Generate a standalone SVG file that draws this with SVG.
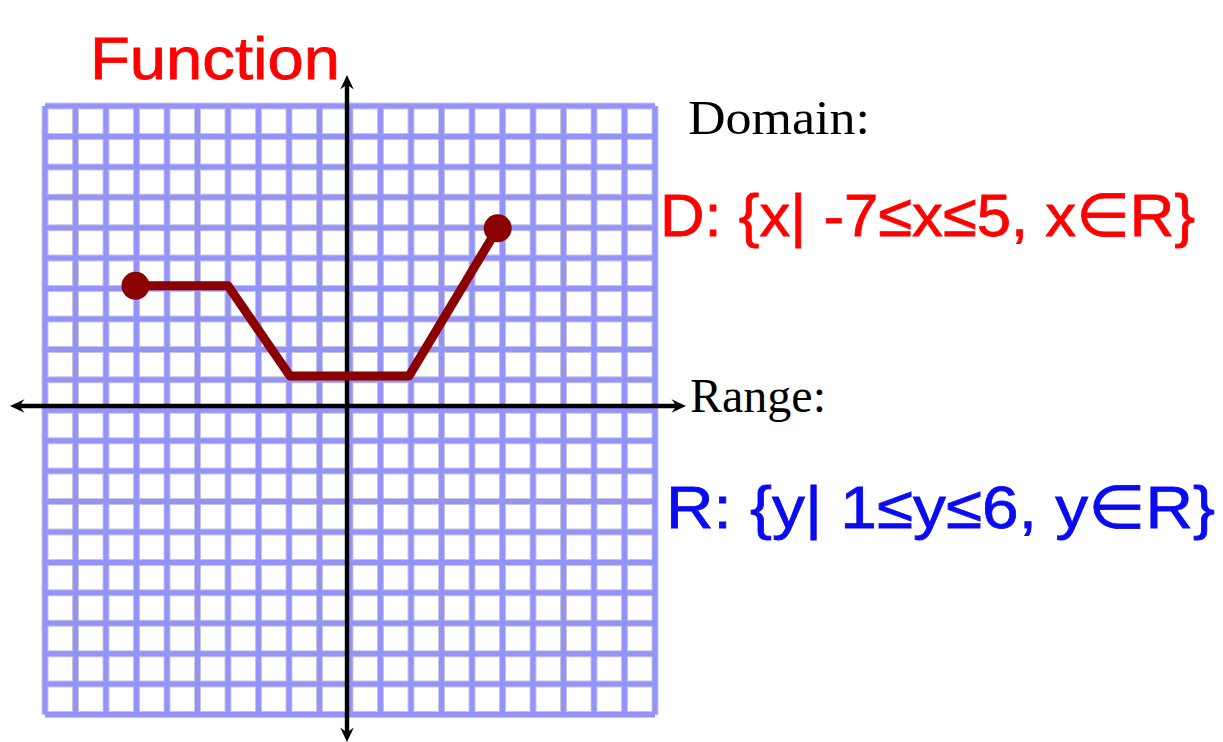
<svg xmlns="http://www.w3.org/2000/svg" width="1223" height="742" viewBox="0 0 1223 742">
<style>
.gshadow{fill:none;stroke:#c6c6d6;stroke-width:7}
.gline{fill:none;stroke:#9393fb;stroke-width:5}
.axis{fill:none;stroke:#000;stroke-width:4.4}
.serif{font-family:"Liberation Serif","Times New Roman",serif;font-size:48px;fill:#000}
.hand{font-family:"Liberation Sans","DejaVu Sans",Arial,sans-serif;font-size:60px;stroke-width:0.8}
.red{fill:#ff0000;stroke:#ff0000}
.blue{fill:#0b0bf2;stroke:#0b0bf2}
.curve{fill:none;stroke:#8b0000;stroke-width:9;stroke-linejoin:round;stroke-linecap:round}
.dot{fill:#8b0000}
</style>
<defs>
<marker id="arr" viewBox="-15 -7 15 14" refX="-9" refY="0" markerWidth="15" markerHeight="14" markerUnits="userSpaceOnUse" orient="auto-start-reverse">
<path d="M0,0 L-14.5,-6.8 L-9.5,0 L-14.5,6.8 Z" fill="#000"/>
</marker>
</defs>
<rect width="1223" height="742" fill="#fff"/>
<g id="grid">
<path class="gshadow" d="M45,106V714.5M75.5,106V714.5M106,106V714.5M136.5,106V714.5M167,106V714.5M197.5,106V714.5M228,106V714.5M258.5,106V714.5M289,106V714.5M319.5,106V714.5M350,106V714.5M380.5,106V714.5M411,106V714.5M441.5,106V714.5M472,106V714.5M502.5,106V714.5M533,106V714.5M563.5,106V714.5M594,106V714.5M624.5,106V714.5M655,106V714.5M45,106H655M45,136.4H655M45,166.9H655M45,197.3H655M45,227.7H655M45,258.1H655M45,288.6H655M45,319H655M45,349.4H655M45,379.8H655M45,410.3H655M45,440.7H655M45,471.1H655M45,501.5H655M45,532H655M45,562.4H655M45,592.8H655M45,623.2H655M45,653.7H655M45,684.1H655M45,714.5H655"/>
<path class="gline" d="M45,106V714.5M75.5,106V714.5M106,106V714.5M136.5,106V714.5M167,106V714.5M197.5,106V714.5M228,106V714.5M258.5,106V714.5M289,106V714.5M319.5,106V714.5M350,106V714.5M380.5,106V714.5M411,106V714.5M441.5,106V714.5M472,106V714.5M502.5,106V714.5M533,106V714.5M563.5,106V714.5M594,106V714.5M624.5,106V714.5M655,106V714.5M45,106H655M45,136.4H655M45,166.9H655M45,197.3H655M45,227.7H655M45,258.1H655M45,288.6H655M45,319H655M45,349.4H655M45,379.8H655M45,410.3H655M45,440.7H655M45,471.1H655M45,501.5H655M45,532H655M45,562.4H655M45,592.8H655M45,623.2H655M45,653.7H655M45,684.1H655M45,714.5H655"/>
</g>
<g id="connectors">
<line id="x-axis" class="axis" x1="19" y1="406" x2="677" y2="406" marker-start="url(#arr)" marker-end="url(#arr)"/>
<line id="y-axis" class="axis" x1="347" y1="84" x2="347" y2="733" marker-start="url(#arr)" marker-end="url(#arr)"/>
</g>
<g id="graph">
<polyline class="curve" points="135.5,285.8 228,285.8 290,376 409,376 497.7,228.3"/>
<circle class="dot" cx="135.5" cy="285.8" r="14"/>
<circle class="dot" cx="497.7" cy="228.3" r="14"/>
</g>
<g id="title">
<text class="hand red" x="90" y="79" font-size="60" textLength="250" lengthAdjust="spacingAndGlyphs">Function</text>
</g>
<g id="domain">
<text class="serif" x="688" y="134" textLength="182" lengthAdjust="spacingAndGlyphs">Domain:</text>
<text class="hand red" x="660" y="236" textLength="535" lengthAdjust="spacingAndGlyphs">D: {x| -7≤x≤5, x∈R}</text>
</g>
<g id="range">
<text class="serif" x="690" y="412" textLength="136" lengthAdjust="spacingAndGlyphs">Range:</text>
<text class="hand blue" x="666" y="528" font-size="64" textLength="549" lengthAdjust="spacingAndGlyphs">R: {y| 1≤y≤6, y∈R}</text>
</g>
</svg>
